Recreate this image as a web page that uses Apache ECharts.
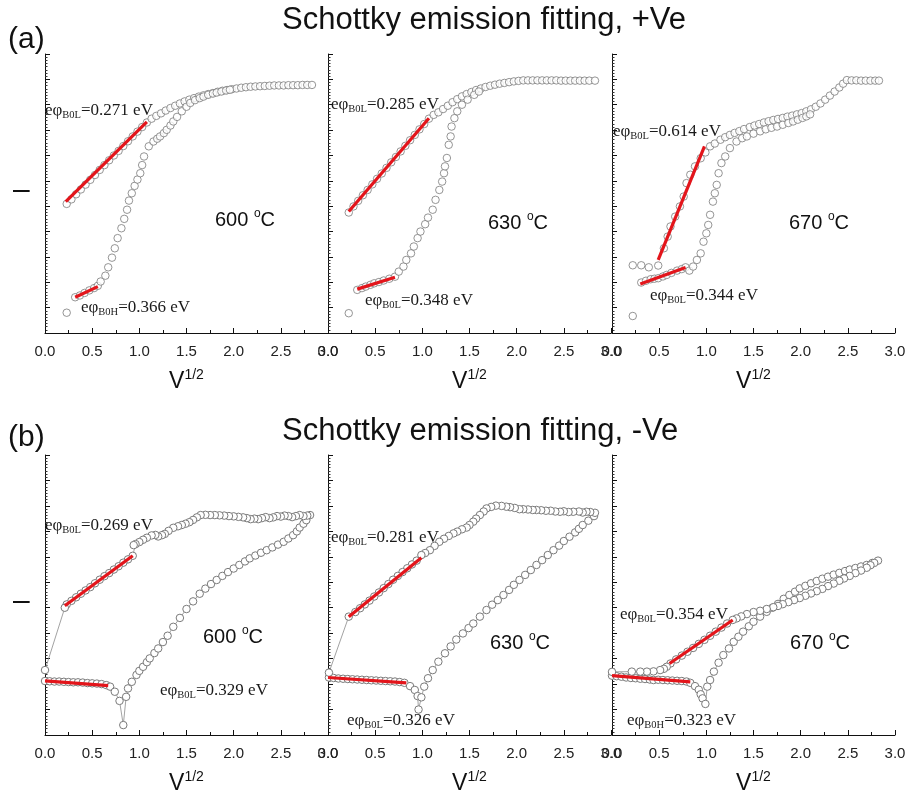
<!DOCTYPE html>
<html><head><meta charset="utf-8">
<script src="https://cdn.jsdelivr.net/npm/echarts@6/dist/echarts.min.js"></script>
<style>html,body{margin:0;padding:0;background:#fff}#c{width:912px;height:791px}</style>
</head><body><div id="c"></div>
<script>
// ---------- data (x = V^1/2, y = ln-scale units, bottom of axis = 0, top = 11) ----------
const xTickLabels = ['0.0','0.5','1.0','1.5','2.0','2.5','3.0'];
const temps = ['600', '630', '670'];

// (a) +Ve, 600 C
const a1_up = [[0.23,5.09],[0.28,5.27],[0.33,5.47],[0.38,5.66],[0.43,5.85],[0.48,6.04],[0.53,6.23],[0.58,6.43],[0.63,6.62],[0.68,6.81],[0.73,7.0],[0.78,7.18],[0.83,7.37],[0.88,7.56],[0.93,7.75],[0.98,7.94],[1.03,8.12],[1.08,8.3],[1.13,8.45],[1.18,8.56],[1.23,8.66],[1.28,8.77],[1.33,8.87],[1.38,8.96],[1.43,9.05],[1.48,9.13],[1.53,9.2],[1.58,9.26],[1.63,9.32],[1.68,9.37],[1.73,9.42],[1.78,9.46],[1.83,9.51],[1.88,9.55],[1.93,9.58],[1.98,9.61],[2.03,9.64],[2.08,9.67],[2.13,9.69],[2.18,9.71],[2.23,9.72],[2.28,9.73],[2.33,9.74],[2.38,9.75],[2.43,9.76],[2.48,9.76],[2.53,9.76],[2.58,9.77],[2.63,9.77],[2.68,9.77],[2.73,9.78],[2.78,9.78],[2.83,9.78]];
const a1_lo = [[0.23,0.8],[0.32,1.41],[0.37,1.48],[0.42,1.58],[0.47,1.68],[0.52,1.77],[0.56,1.86],[0.59,2.03],[0.64,2.26],[0.67,2.59],[0.71,2.97],[0.74,3.34],[0.77,3.74],[0.81,4.13],[0.84,4.5],[0.87,4.86],[0.89,5.22],[0.92,5.51],[0.95,5.8],[0.98,6.05],[1.01,6.3],[1.03,6.62],[1.05,6.96],[1.1,7.36],[1.15,7.55],[1.19,7.66],[1.22,7.75],[1.26,7.88],[1.29,8.01],[1.33,8.18],[1.36,8.34],[1.4,8.52],[1.45,8.74],[1.5,8.92],[1.54,9.07],[1.59,9.18],[1.64,9.26],[1.68,9.32],[1.73,9.39],[1.78,9.44],[1.82,9.48],[1.87,9.52],[1.92,9.56],[1.96,9.59]];
const a1_fitL = [[0.22,5.18],[1.08,8.32]];
const a1_fitH = [[0.32,1.41],[0.56,1.83]];

// (a) +Ve, 630 C
const a2_up = [[0.22,4.75],[0.27,4.99],[0.32,5.21],[0.37,5.43],[0.42,5.64],[0.47,5.86],[0.52,6.08],[0.57,6.29],[0.62,6.51],[0.67,6.73],[0.72,6.94],[0.77,7.16],[0.82,7.38],[0.87,7.6],[0.92,7.81],[0.97,8.03],[1.02,8.24],[1.07,8.45],[1.12,8.6],[1.17,8.7],[1.22,8.83],[1.27,8.96],[1.32,9.1],[1.37,9.22],[1.42,9.33],[1.47,9.42],[1.52,9.5],[1.57,9.58],[1.62,9.64],[1.67,9.7],[1.72,9.75],[1.77,9.79],[1.82,9.83],[1.87,9.86],[1.92,9.89],[1.97,9.92],[2.02,9.94],[2.07,9.96],[2.12,9.96],[2.17,9.96],[2.22,9.96],[2.27,9.96],[2.32,9.96],[2.37,9.96],[2.42,9.96],[2.47,9.95],[2.52,9.95],[2.57,9.95],[2.62,9.95],[2.67,9.95],[2.72,9.95],[2.77,9.95],[2.83,9.95]];
const a2_lo = [[0.22,0.78],[0.31,1.7],[0.36,1.77],[0.4,1.83],[0.45,1.9],[0.49,1.96],[0.54,2.01],[0.59,2.07],[0.65,2.14],[0.71,2.22],[0.75,2.42],[0.8,2.62],[0.83,2.88],[0.88,3.14],[0.91,3.41],[0.95,3.74],[0.98,4.0],[1.03,4.29],[1.06,4.55],[1.11,4.86],[1.14,5.25],[1.18,5.64],[1.21,5.97],[1.23,6.3],[1.24,6.57],[1.26,6.9],[1.28,7.42],[1.3,7.75],[1.31,8.14],[1.34,8.47],[1.37,8.74],[1.42,9.0],[1.48,9.2],[1.55,9.39],[1.6,9.52]];
const a2_fitL = [[0.22,4.79],[1.07,8.47]];
const a2_fitH = [[0.31,1.73],[0.71,2.2]];

// (a) +Ve, 670 C
const a3_up = [[0.22,2.67],[0.31,2.67],[0.39,2.59],[0.49,2.66],[0.55,3.34],[0.59,3.8],[0.62,4.2],[0.67,4.59],[0.72,4.99],[0.76,5.38],[0.79,5.91],[0.83,6.24],[0.88,6.57],[0.94,6.89],[0.99,7.12],[1.04,7.36],[1.09,7.47],[1.15,7.62],[1.2,7.72],[1.25,7.81],[1.3,7.89],[1.35,7.96],[1.4,8.04],[1.46,8.12],[1.51,8.18],[1.56,8.24],[1.61,8.3],[1.66,8.35],[1.71,8.4],[1.76,8.44],[1.81,8.48],[1.86,8.53],[1.91,8.57],[1.96,8.62],[2.01,8.67],[2.06,8.74],[2.11,8.82],[2.16,8.92],[2.21,9.05],[2.26,9.2],[2.31,9.36],[2.36,9.52],[2.41,9.68],[2.45,9.83],[2.49,9.97],[2.54,9.96],[2.59,9.96],[2.64,9.95],[2.69,9.95],[2.74,9.95],[2.79,9.95],[2.83,9.95]];
const a3_lo = [[0.22,0.67],[0.31,1.99],[0.36,2.06],[0.41,2.12],[0.45,2.14],[0.49,2.16],[0.54,2.23],[0.58,2.29],[0.63,2.37],[0.69,2.46],[0.74,2.52],[0.78,2.59],[0.82,2.46],[0.86,2.62],[0.9,2.88],[0.94,3.14],[0.97,3.6],[1.0,3.93],[1.02,4.26],[1.04,4.66],[1.07,5.18],[1.09,5.51],[1.11,5.84],[1.13,6.3],[1.16,6.7],[1.2,6.96],[1.25,7.29],[1.32,7.55],[1.38,7.68],[1.43,7.75],[1.5,7.86],[1.57,7.95],[1.63,8.03],[1.69,8.09],[1.75,8.14],[1.81,8.21],[1.87,8.28],[1.92,8.34],[1.97,8.41],[2.02,8.48],[2.06,8.54],[2.1,8.62]];
const a3_fitL = [[0.49,2.88],[0.98,7.36]];
const a3_fitH = [[0.3,1.93],[0.78,2.58]];

// (b) -Ve, 600 C (one sweep path)
const b1_path = [[0,2.12],[0.05,2.11],[0.1,2.1],[0.15,2.1],[0.2,2.09],[0.25,2.08],[0.3,2.07],[0.35,2.07],[0.4,2.06],[0.45,2.04],[0.5,2.03],[0.55,2.02],[0.6,2.0],[0.65,1.96],[0.69,1.9],[0.74,1.7],[0.79,1.34],[0.83,0.39],[0.86,1.5],[0.88,1.83],[0.92,2.09],[0.97,2.36],[1.0,2.52],[1.04,2.68],[1.08,2.86],[1.11,3.01],[1.16,3.22],[1.2,3.4],[1.25,3.65],[1.3,3.9],[1.36,4.25],[1.43,4.6],[1.5,4.95],[1.57,5.25],[1.64,5.55],[1.7,5.75],[1.76,5.93],[1.82,6.09],[1.88,6.25],[1.94,6.4],[2.0,6.54],[2.06,6.68],[2.12,6.82],[2.17,6.94],[2.23,7.05],[2.29,7.16],[2.35,7.26],[2.41,7.37],[2.47,7.48],[2.53,7.59],[2.58,7.72],[2.63,7.85],[2.67,8.0],[2.7,8.15],[2.74,8.3],[2.77,8.44],[2.81,8.64],
  [2.78,8.62],[2.74,8.6],[2.7,8.64],[2.66,8.6],[2.62,8.56],[2.58,8.6],[2.54,8.62],[2.5,8.58],[2.46,8.6],[2.42,8.55],[2.38,8.52],[2.34,8.56],[2.3,8.52],[2.26,8.48],[2.22,8.5],[2.18,8.48],[2.14,8.52],[2.1,8.55],[2.05,8.57],[2.0,8.59],[1.95,8.6],[1.9,8.62],[1.85,8.63],[1.8,8.64],[1.75,8.64],[1.7,8.65],[1.65,8.64],[1.61,8.55],[1.57,8.45],[1.53,8.36],[1.49,8.3],[1.45,8.25],[1.41,8.2],[1.36,8.14],[1.31,8.02],[1.27,7.9],[1.24,7.85],[1.2,7.8],[1.17,7.86],[1.13,7.84],[1.08,7.75],[1.04,7.67],[1.0,7.58],[0.96,7.5],[0.94,7.46],
  [0.93,7.04],[0.88,6.9],[0.83,6.77],[0.78,6.63],[0.73,6.5],[0.68,6.36],[0.63,6.24],[0.58,6.1],[0.53,5.96],[0.48,5.81],[0.43,5.68],[0.38,5.55],[0.33,5.41],[0.28,5.27],[0.23,5.13],[0.21,5.0],[0,2.55]];
const b1_fitL = [[0.21,5.08],[0.93,7.04]];
const b1_fitH = [[0,2.13],[0.67,1.94]];

// (b) -Ve, 630 C
const b2_path = [[0.01,2.26],[0.06,2.24],[0.11,2.22],[0.16,2.21],[0.21,2.2],[0.26,2.19],[0.31,2.18],[0.36,2.17],[0.41,2.16],[0.46,2.15],[0.51,2.14],[0.56,2.13],[0.61,2.12],[0.66,2.11],[0.71,2.1],[0.76,2.08],[0.81,2.05],[0.87,1.92],[0.92,1.77],[0.95,1.53],[0.96,1.0],[0.99,1.48],[1.02,1.9],[1.06,2.23],[1.11,2.55],[1.17,2.88],[1.24,3.21],[1.3,3.48],[1.36,3.75],[1.43,3.99],[1.49,4.2],[1.54,4.38],[1.61,4.65],[1.68,4.91],[1.74,5.12],[1.8,5.3],[1.86,5.5],[1.92,5.7],[1.97,5.9],[2.03,6.09],[2.09,6.29],[2.15,6.48],[2.21,6.68],[2.27,6.87],[2.33,7.07],[2.39,7.26],[2.45,7.44],[2.5,7.62],[2.56,7.79],[2.62,7.96],[2.66,8.1],[2.7,8.25],[2.76,8.42],[2.82,8.6],
  [2.83,8.73],[2.78,8.76],[2.74,8.77],[2.7,8.74],[2.66,8.78],[2.6,8.77],[2.55,8.76],[2.5,8.79],[2.46,8.77],[2.41,8.78],[2.36,8.81],[2.31,8.81],[2.26,8.83],[2.21,8.84],[2.17,8.84],[2.12,8.86],[2.07,8.87],[2.03,8.87],[1.98,8.92],[1.93,8.95],[1.89,8.97],[1.84,9.0],[1.78,9.01],[1.73,8.96],[1.68,8.9],[1.65,8.78],[1.61,8.64],[1.57,8.5],[1.54,8.38],[1.5,8.25],[1.47,8.15],[1.42,8.08],[1.37,7.99],[1.33,7.92],[1.28,7.82],[1.23,7.71],[1.18,7.59],[1.13,7.43],[1.08,7.26],[1.03,7.15],[0.99,7.07],
  [0.94,6.85],[0.89,6.7],[0.84,6.55],[0.79,6.4],[0.74,6.25],[0.69,6.1],[0.64,5.93],[0.59,5.77],[0.54,5.6],[0.49,5.44],[0.44,5.28],[0.39,5.13],[0.34,4.98],[0.29,4.83],[0.22,4.65],[0.01,2.45]];
const b2_fitL = [[0.22,4.65],[0.99,6.96]];
const b2_fitH = [[0,2.26],[0.83,2.05]];

// (b) -Ve, 670 C
const b3_path = [[0,2.33],[0.05,2.31],[0.1,2.29],[0.15,2.26],[0.2,2.24],[0.25,2.23],[0.3,2.21],[0.35,2.2],[0.4,2.18],[0.44,2.16],[0.49,2.17],[0.54,2.16],[0.59,2.15],[0.64,2.14],[0.69,2.13],[0.74,2.12],[0.79,2.1],[0.83,2.05],[0.88,1.92],[0.92,1.78],[0.94,1.6],[0.96,1.44],[0.99,1.22],[1.01,1.9],[1.04,2.16],[1.08,2.49],[1.13,2.84],[1.18,3.14],[1.24,3.4],[1.29,3.66],[1.34,3.86],[1.39,4.06],[1.45,4.27],[1.5,4.45],[1.57,4.65],[1.64,4.84],[1.7,5.0],[1.76,5.15],[1.82,5.35],[1.88,5.5],[1.94,5.63],[1.99,5.76],[2.05,5.86],[2.11,5.96],[2.17,6.05],[2.23,6.14],[2.29,6.22],[2.35,6.3],[2.41,6.37],[2.47,6.44],[2.52,6.5],[2.58,6.56],[2.64,6.62],[2.7,6.68],[2.76,6.76],[2.82,6.85],
  [2.78,6.76],[2.74,6.67],[2.7,6.57],[2.64,6.46],[2.58,6.36],[2.52,6.25],[2.46,6.15],[2.41,6.06],[2.35,5.95],[2.29,5.85],[2.23,5.74],[2.17,5.65],[2.11,5.56],[2.05,5.47],[1.99,5.38],[1.93,5.3],[1.87,5.22],[1.81,5.14],[1.76,5.07],[1.71,5.02],[1.64,4.95],[1.57,4.88],[1.5,4.83],[1.43,4.75],[1.37,4.66],[1.32,4.58],[1.28,4.52],
  [1.22,4.38],[1.16,4.22],[1.1,4.06],[1.04,3.9],[0.98,3.74],[0.92,3.58],[0.86,3.42],[0.8,3.27],[0.74,3.12],[0.68,2.97],[0.62,2.81],[0.58,2.68],[0.55,2.6],[0.51,2.55],[0.44,2.5],[0.37,2.49],[0.3,2.49],[0.21,2.49],[0,2.48]];
const b3_fitL = [[0.61,2.81],[1.28,4.52]];
const b3_fitH = [[0,2.33],[0.83,2.09]];

// fit annotations
const labelsTop = [['B0L','0.271','B0H','0.366'],['B0L','0.285','B0L','0.348'],['B0L','0.614','B0L','0.344']];
const labelsBot = [['B0L','0.269','B0L','0.329'],['B0L','0.281','B0L','0.326'],['B0L','0.354','B0H','0.323']];

// ---------- layout ----------
const SANS = '"Liberation Sans", Arial, sans-serif';
const SERIF = '"Liberation Serif", "Times New Roman", serif';
const lefts = [45, 328, 612];
const W = 283;
const rows = [{top: 54, h: 279, nameGap: 35}, {top: 455, h: 280, nameGap: 35}];

const grids = [], xAxes = [], yAxes = [], series = [];
const topData = [[a1_up, a1_lo, a1_fitL, a1_fitH],[a2_up, a2_lo, a2_fitL, a2_fitH],[a3_up, a3_lo, a3_fitL, a3_fitH]];
const botData = [[b1_path, b1_fitL, b1_fitH],[b2_path, b2_fitL, b2_fitH],[b3_path, b3_fitL, b3_fitH]];

const markerStyle = {color: '#fff', borderColor: '#7a7a7a', borderWidth: 1};
const redStyle = {color: '#e3151b', width: 3.2};

rows.forEach((r, ri) => {
  lefts.forEach((l, ci) => {
    const idx = grids.length;
    grids.push({left: l, top: r.top, width: W, height: r.h, containLabel: false, outerBoundsMode: 'none'});
    xAxes.push({
      type: 'value', gridIndex: idx, min: 0, max: 3, interval: 0.5,
      axisLine: {show: true, onZero: false, lineStyle: {color: '#111', width: 1}},
      axisTick: {show: true, inside: true, length: 5, lineStyle: {color: '#111'}},
      minorTick: {show: true, splitNumber: 2, length: 3, lineStyle: {color: '#111'}},
      splitLine: {show: false},
      axisLabel: {color: '#222', fontSize: 15, fontFamily: SANS, margin: 11,
        formatter: v => xTickLabels[Math.round(v * 2)], showMaxLabel: true, showMinLabel: true, hideOverlap: false},
      name: '{v|V}{s|1/2}', nameLocation: 'middle', nameGap: r.nameGap,
      nameTextStyle: {rich: {
        v: {fontSize: 23, fontFamily: SANS, color: '#111', lineHeight: 28},
        s: {fontSize: 14, fontFamily: SANS, color: '#111', lineHeight: 16, verticalAlign: 'top'}
      }}
    });
    yAxes.push({
      type: 'value', gridIndex: idx, min: 0, max: 11, interval: 1,
      axisLine: {show: true, onZero: false, lineStyle: {color: '#111', width: 1}},
      axisTick: {show: true, inside: true, length: 5, lineStyle: {color: '#111'}},
      minorTick: {show: true, splitNumber: 8, length: 2.5, lineStyle: {color: '#333'}},
      splitLine: {show: false}, axisLabel: {show: false}
    });
    if (ri === 0) {
      const d = topData[ci];
      [d[0], d[1]].forEach(arr => series.push({
        type: 'scatter', xAxisIndex: idx, yAxisIndex: idx, data: arr,
        symbol: 'circle', symbolSize: 7.5, itemStyle: markerStyle, z: 2
      }));
      [d[2], d[3]].forEach(arr => series.push({
        type: 'line', xAxisIndex: idx, yAxisIndex: idx, data: arr, symbol: 'none',
        lineStyle: redStyle, z: 5
      }));
    } else {
      const d = botData[ci];
      series.push({
        type: 'line', xAxisIndex: idx, yAxisIndex: idx, data: d[0],
        symbol: 'circle', symbolSize: 7.5, showAllSymbol: true, itemStyle: markerStyle,
        lineStyle: {color: '#8a8a8a', width: 0.8}, z: 2
      });
      [d[1], d[2]].forEach(arr => series.push({
        type: 'line', xAxisIndex: idx, yAxisIndex: idx, data: arr, symbol: 'none',
        lineStyle: redStyle, z: 5
      }));
    }
  });
});

// ---------- texts ----------
const richAnn = {
  m: {fontSize: 17, fontFamily: SERIF, fill: '#1a1a1a', lineHeight: 20},
  s: {fontSize: 10.5, fontFamily: SERIF, fill: '#1a1a1a', lineHeight: 10, verticalAlign: 'bottom'}
};
function ann(x, y, sub, val) {
  return {type: 'text', left: x, top: y - 11, z: 100,
    style: {text: '{m|eφ}{s|' + sub + '}{m|=' + val + ' eV}', rich: richAnn}};
}
const richT = {
  t: {fontSize: 20, fontFamily: SANS, fill: '#111', lineHeight: 24},
  o: {fontSize: 12, fontFamily: SANS, fill: '#111', lineHeight: 12, verticalAlign: 'top'}
};
function tempLbl(x, y, t) {
  return {type: 'text', left: x, top: y - 12, z: 100,
    style: {text: '{t|' + t + ' }{o|o}{t|C}', rich: richT}};
}
const annPosTop = [[[45,113],[81,310],[215,220]], [[331,107],[365,303],[488,223]], [[613,134],[650,298],[789,223]]];
const annPosBot = [[[45,528],[160,693],[203,637]], [[331,540],[347,723],[490,643]], [[620,617],[627,723],[790,643]]];

const graphics = [];
[[annPosTop, labelsTop], [annPosBot, labelsBot]].forEach(([pos, lbl]) => {
  pos.forEach((p, ci) => {
    graphics.push(ann(p[0][0], p[0][1], lbl[ci][0], lbl[ci][1]));
    graphics.push(ann(p[1][0], p[1][1], lbl[ci][2], lbl[ci][3]));
    graphics.push(tempLbl(p[2][0], p[2][1], temps[ci]));
  });
});
graphics.push({type: 'text', left: 282, top: 5, z: 100,
  style: {text: 'Schottky emission fitting, +Ve', fontSize: 31, fontFamily: SANS, fill: '#111'}});
graphics.push({type: 'text', left: 282, top: 416, z: 100,
  style: {text: 'Schottky emission fitting, -Ve', fontSize: 31, fontFamily: SANS, fill: '#111'}});
graphics.push({type: 'text', left: 8, top: 25, z: 100, style: {text: '(a)', fontSize: 30, fontFamily: SANS, fill: '#111'}});
graphics.push({type: 'text', left: 8, top: 423, z: 100, style: {text: '(b)', fontSize: 30, fontFamily: SANS, fill: '#111'}});
graphics.push({type: 'text', left: 13, top: 176, z: 100, style: {text: '–', fontSize: 30, fontFamily: SANS, fill: '#111'}});
graphics.push({type: 'text', left: 13, top: 587, z: 100, style: {text: '–', fontSize: 30, fontFamily: SANS, fill: '#111'}});

const chart = echarts.init(document.getElementById('c'), null, {renderer: 'canvas'});
chart.setOption({
  backgroundColor: '#fff',
  animation: false,
  grid: grids, xAxis: xAxes, yAxis: yAxes, series: series,
  graphic: graphics
});
</script>
</body></html>
